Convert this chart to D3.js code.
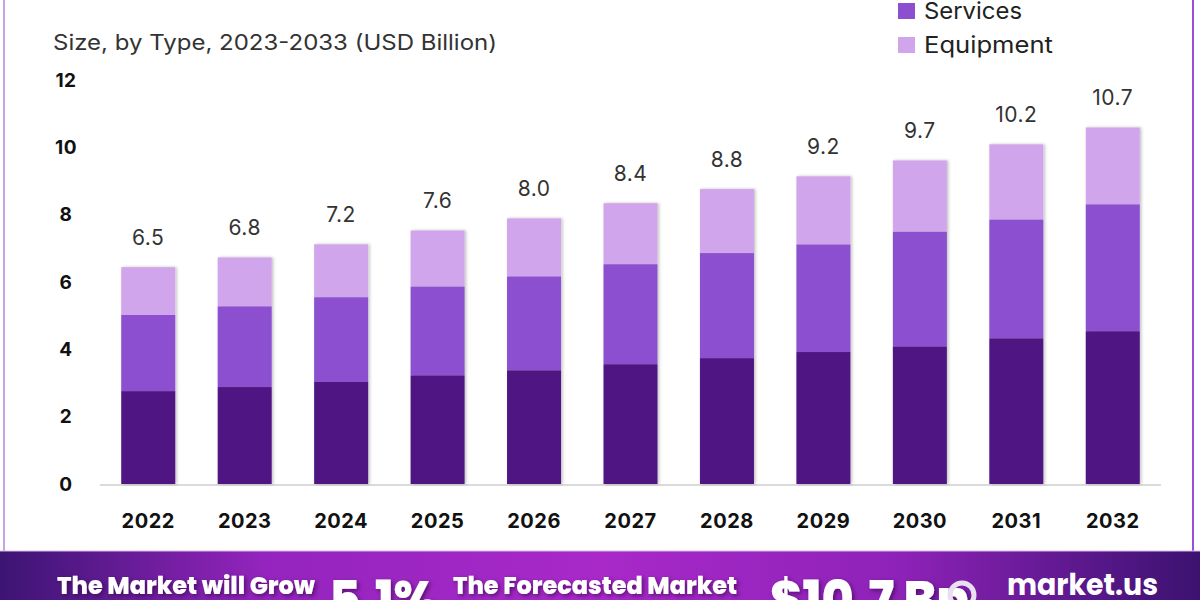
<!DOCTYPE html>
<html>
<head>
<meta charset="utf-8">
<script src="https://cdn.jsdelivr.net/npm/d3@7"></script>
<style>
  html, body { margin: 0; padding: 0; background: #ffffff; }
  svg { display: block; }
</style>
</head>
<body>
<svg id="chart" width="1200" height="600"></svg>
<script>
// ---- data ----
const years = ['2022','2023','2024','2025','2026','2027','2028','2029','2030','2031','2032'];
const seriesNames = ['Software', 'Services', 'Equipment'];
const software  = [2.76, 2.88, 3.03, 3.23, 3.38, 3.56, 3.74, 3.92, 4.09, 4.33, 4.54];
const services  = [2.26, 2.40, 2.52, 2.64, 2.79, 2.97, 3.12, 3.20, 3.41, 3.53, 3.77];
const equipment = [1.42, 1.45, 1.57, 1.66, 1.72, 1.81, 1.90, 2.02, 2.11, 2.23, 2.28];
const totalLabels = ['6.5','6.8','7.2','7.6','8.0','8.4','8.8','9.2','9.7','10.2','10.7'];
const yTicks = [0, 2, 4, 6, 8, 10, 12];
const subtitle = 'Size, by Type, 2023-2033 (USD Billion)';
const bannerTexts = ['The Market will Grow', '5.1%', 'The Forecasted Market', '$10.7 Bn', 'market.us'];

const colors = ['#4f1783', '#8b4fcf', '#d1a5eb'];

const svg = d3.select('#chart');
const defs = svg.append('defs');

const shadow = defs.append('filter').attr('id', 'shadow')
  .attr('x', '-20%').attr('y', '-10%').attr('width', '140%').attr('height', '120%');
shadow.append('feDropShadow').attr('dx', 1.5).attr('dy', 0).attr('stdDeviation', 1.5)
  .attr('flood-color', '#000').attr('flood-opacity', 0.25);

const grad = defs.append('linearGradient').attr('id', 'banner').attr('x1', '0%').attr('x2', '100%');
[['0%', '#3c1473'], ['22%', '#9424bd'], ['50%', '#a829c8'], ['75%', '#8e22b8'], ['100%', '#3b1270']]
  .forEach(([o, c]) => grad.append('stop').attr('offset', o).attr('stop-color', c));

const txtShadow = defs.append('filter').attr('id', 'tshadow')
  .attr('x', '-10%').attr('y', '-30%').attr('width', '120%').attr('height', '160%');
txtShadow.append('feDropShadow').attr('dx', 2).attr('dy', 2).attr('stdDeviation', 2)
  .attr('flood-color', '#2a0040').attr('flood-opacity', 0.6);

// ---- frame borders ----
svg.append('line').attr('x1', 4).attr('x2', 4).attr('y1', 0).attr('y2', 551)
  .attr('stroke', '#c9a3e6').attr('stroke-width', 2);
svg.append('line').attr('x1', 1193).attr('x2', 1193).attr('y1', 0).attr('y2', 551)
  .attr('stroke', '#9b4fd8').attr('stroke-width', 2);

// ---- scales ----
const x = d3.scaleBand().domain(years).range([100, 1161]).paddingInner(0.44).paddingOuter(0.22);
const y = d3.scaleLinear().domain([0, 12]).range([484, 80]);

// stacked data
const rows = years.map((yr, i) => ({ year: yr, Software: software[i], Services: services[i], Equipment: equipment[i] }));
const stacked = d3.stack().keys(seriesNames)(rows);

const font = 'Inter, "Open Sans", sans-serif';

// ---- y axis labels ----
const yAxis = d3.axisLeft(y).tickValues(yTicks).tickSize(0).tickPadding(0).tickFormat(d3.format('d'));
const yg = svg.append('g').attr('transform', 'translate(66,0)').call(yAxis);
yg.select('.domain').remove();
yg.selectAll('text')
  .attr('text-anchor', 'middle').attr('x', 0)
  .style('font-family', font).style('letter-spacing', '0.5px')
  .style('font-weight', 700).style('font-size', '19px').attr('fill', '#111');

// ---- baseline ----
svg.append('line').attr('x1', 100).attr('x2', 1161).attr('y1', 485).attr('y2', 485)
  .attr('stroke', '#cfcfcf').attr('stroke-width', 1.5);

// ---- bars ----
const barG = svg.append('g').attr('filter', 'url(#shadow)');
barG.selectAll('g.series').data(stacked).join('g').attr('class', 'series')
  .attr('fill', (d, i) => colors[i])
  .selectAll('rect').data(d => d).join('rect')
  .attr('x', d => x(d.data.year))
  .attr('width', x.bandwidth())
  .attr('y', d => y(d[1]))
  .attr('height', d => y(d[0]) - y(d[1]));

// ---- value labels ----
const topLayer = stacked[stacked.length - 1];
svg.append('g').selectAll('text').data(topLayer).join('text')
  .attr('x', d => x(d.data.year) + x.bandwidth() / 2)
  .attr('y', d => y(d[1]) - 22)
  .attr('text-anchor', 'middle')
  .style('font-family', font).style('letter-spacing', '0.5px')
  .style('font-size', '21px').attr('fill', '#333')
  .text((d, i) => totalLabels[i]);

// ---- x axis labels ----
const xAxis = d3.axisBottom(x).tickSize(0).tickPadding(0);
const xg = svg.append('g').attr('transform', 'translate(0,521)').call(xAxis);
xg.select('.domain').remove();
xg.selectAll('text')
  .attr('dy', '0.35em')
  .style('font-family', font).style('letter-spacing', '0.5px')
  .style('font-weight', 700).style('font-size', '20px').attr('fill', '#111');

// ---- subtitle ----
svg.append('text').attr('x', 53).attr('y', 50)
  .attr('textLength', 444).attr('lengthAdjust', 'spacingAndGlyphs')
  .style('font-family', font).style('font-size', '21px')
  .attr('fill', '#333').text(subtitle);

// ---- legend ----
const legendWidths = [112, 98, 129];
const leg = svg.append('g');
seriesNames.forEach((name, i) => {
  const ly = -31 + i * 34;
  leg.append('rect').attr('x', 898).attr('y', ly).attr('width', 17).attr('height', 16).attr('fill', colors[i]);
  leg.append('text').attr('x', 924).attr('y', ly + 8).attr('dy', '0.35em')
    .attr('textLength', legendWidths[i]).attr('lengthAdjust', 'spacingAndGlyphs')
    .style('font-family', font).style('font-size', '23px')
    .attr('fill', '#222').text(name);
});

// ---- banner ----
svg.append('rect').attr('x', 0).attr('y', 551).attr('width', 1200).attr('height', 49).attr('fill', 'url(#banner)');
svg.append('line').attr('x1', 0).attr('x2', 1200).attr('y1', 551).attr('y2', 551)
  .attr('stroke', '#d9b6ef').attr('stroke-width', 1);

const bfont = 'Poppins, Lato, "Open Sans", sans-serif';
const bt = svg.append('g').attr('fill', '#fff').style('font-family', bfont).style('font-weight', 800);
bt.append('text').attr('x', 57).attr('y', 594).attr('textLength', 258).attr('lengthAdjust', 'spacingAndGlyphs')
  .style('font-size', '24px').attr('filter', 'url(#tshadow)').text(bannerTexts[0]);
bt.append('text').attr('x', 329).attr('y', 617).attr('textLength', 108).attr('lengthAdjust', 'spacingAndGlyphs')
  .style('font-size', '50px').attr('filter', 'url(#tshadow)').text(bannerTexts[1]);
bt.append('text').attr('x', 453).attr('y', 594).attr('textLength', 284).attr('lengthAdjust', 'spacingAndGlyphs')
  .style('font-size', '24px').attr('filter', 'url(#tshadow)').text(bannerTexts[2]);
bt.append('text').attr('x', 770).attr('y', 617).attr('textLength', 200).attr('lengthAdjust', 'spacingAndGlyphs')
  .style('font-size', '50px').attr('filter', 'url(#tshadow)').text(bannerTexts[3]);
// logo mark
svg.append('circle').attr('cx', 962).attr('cy', 595).attr('r', 12)
  .attr('fill', 'none').attr('stroke', '#e8e0f0').attr('stroke-width', 5);
svg.append('text').attr('x', 1007).attr('y', 595).attr('textLength', 151).attr('lengthAdjust', 'spacingAndGlyphs')
  .attr('fill', '#fff').style('font-family', bfont).style('font-weight', 700).style('font-size', '30px')
  .text(bannerTexts[4]);
</script>
</body>
</html>
